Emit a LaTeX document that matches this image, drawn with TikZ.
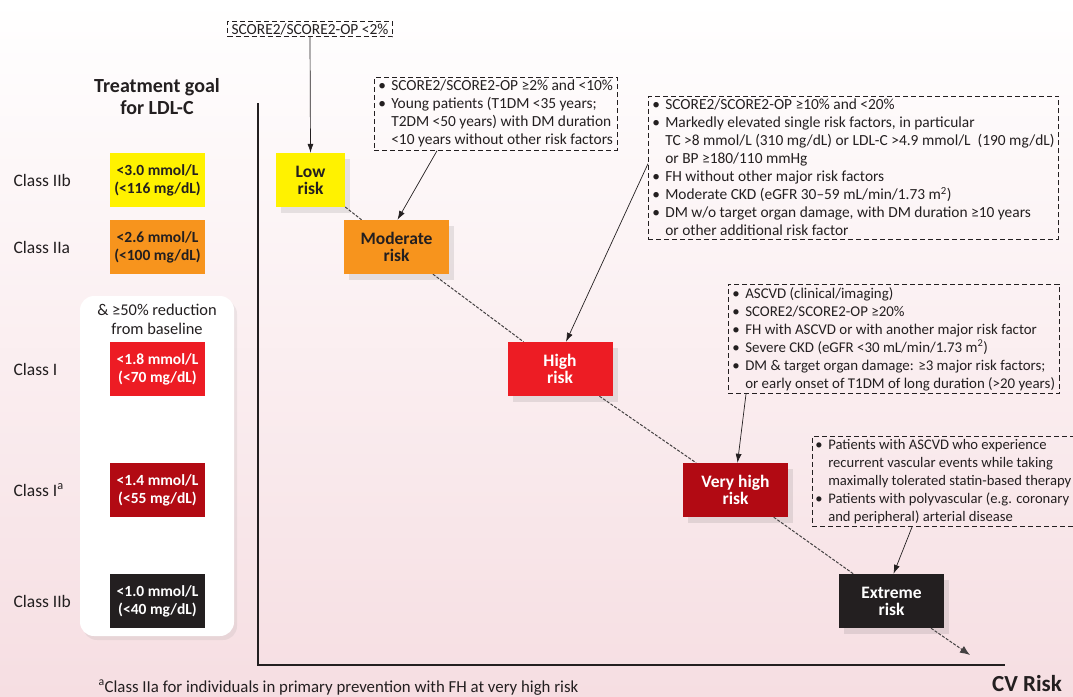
\documentclass[tikz,border=0pt]{standalone}
\usepackage{fontspec}
\setmainfont{Carlito}
\usetikzlibrary{arrows.meta, positioning, shadows, calc}
\definecolor{riskyellow}{HTML}{FFF200}
\definecolor{riskorange}{HTML}{F7941D}
\definecolor{riskred}{HTML}{ED1C24}
\definecolor{riskdark}{HTML}{B20A13}
\definecolor{riskblack}{HTML}{231F20}
\definecolor{ink}{HTML}{231F20}
\definecolor{bgpink}{HTML}{F6DEE2}
\pgfdeclarelayer{bottom}
\pgfdeclarelayer{back}
\pgfsetlayers{bottom,back,main}
\newcommand{\bul}{\makebox[13pt][l]{\textbullet}}
\newcommand{\ind}{\hspace*{13pt}}
\tikzset{
  >=Latex,
  % risk categories
  risk/.style={minimum width=105pt, minimum height=54pt, inner sep=0pt, align=center,
    font=\fontsize{17.5}{17}\selectfont\bfseries,
    drop shadow={shadow xshift=5pt, shadow yshift=-6pt, opacity=0.13, fill=black!70}},
  risk low/.style={risk, fill=riskyellow, text=ink, minimum width=69pt},
  risk moderate/.style={risk, fill=riskorange, text=ink},
  risk high/.style={risk, fill=riskred, text=white},
  risk veryhigh/.style={risk, fill=riskdark, text=white},
  risk extreme/.style={risk, fill=riskblack, text=white},
  % LDL-C goals
  goal/.style={minimum width=95pt, minimum height=54pt, inner sep=0pt, align=center,
    font=\fontsize{15.5}{18}\selectfont\bfseries},
  classlbl/.style={anchor=west, font=\fontsize{17.5}{18}\selectfont, text=ink},
  % dashed text boxes
  info/.style={draw=ink, dash pattern=on 5pt off 3pt, line width=0.6pt, align=left,
    inner xsep=4pt, inner ysep=3pt, font=\fontsize{15.4}{18}\selectfont, text=ink,
    anchor=north west},
  % connections
  connect arrow/.style={-{Latex[length=9pt,width=6pt]}, line width=0.7pt, ink},
  connect dash/.style={dash pattern=on 3pt off 1.5pt, line width=1pt, ink!85},
  axis/.style={line width=2pt, ink}
}

\begin{document}
\begin{tikzpicture}[x=1pt, y=-1pt]
  \useasboundingbox (0,0) rectangle (1073,696);
  \begin{pgfonlayer}{bottom}
    \shade[top color=white, middle color=bgpink!55, bottom color=bgpink] (0,0) rectangle (1073,696);
  \end{pgfonlayer}

  % axes
  \coordinate (ytop) at (258,103);
  \coordinate (orig) at (258,665);
  \coordinate (xend) at (1005,665);
  \draw[axis] (ytop) -- (orig) -- (xend);
  \node[font=\fontsize{23}{24}\selectfont\bfseries, text=ink] (cvrisk) at (1027,684) {CV Risk};

  % left panel
  \node[font=\fontsize{20}{22}\selectfont\bfseries, text=ink, align=center] (goaltitle) at (157,97) {Treatment goal\\for LDL-C};
  \node[draw=none, fill=white, rounded corners=14pt, minimum width=154pt, minimum height=340pt,
    drop shadow={shadow xshift=3pt, shadow yshift=-4pt, opacity=0.12}] (panel) at (157,466) {};
  \node[font=\fontsize{16.4}{19}\selectfont, text=ink, align=center] (reduction) at (157,319) {\& ≥50\% reduction\\from baseline};
  \foreach \y/\col/\tc/\txt/\cls/\name in {
      180/riskyellow/ink/{<3.0 mmol/L\\(<116 mg/dL)}/{Class IIb}/a,
      247/riskorange/ink/{<2.6 mmol/L\\(<100 mg/dL)}/{Class IIa}/b,
      369/riskred/white/{<1.8 mmol/L\\(<70 mg/dL)}/{Class I}/c,
      490/riskdark/white/{<1.4 mmol/L\\(<55 mg/dL)}/{Class I\textsuperscript{a}}/d,
      601/riskblack/white/{<1.0 mmol/L\\(<40 mg/dL)}/{Class IIb}/e}{
    \node[goal, fill=\col, text=\tc] (goal\name) at (157.5,\y) {\txt};
    \node[classlbl] (class\name) at (10,\y) {\cls};
  }
  \node[anchor=base west, font=\fontsize{16.8}{18}\selectfont, text=ink] (foot) at (95,692)
    {\textsuperscript{a}Class IIa for individuals in primary prevention with FH at very high risk};

  % risk boxes
  \node[risk low] (low) at (310.5,180) {Low\\risk};
  \node[risk moderate] (moderate) at (396.5,247) {Moderate\\risk};
  \node[risk high] (high) at (560,369) {High\\risk};
  \node[risk veryhigh] (veryhigh) at (735.5,490) {Very high\\risk};
  \node[risk extreme] (extreme) at (891.5,601) {Extreme\\risk};
  \coordinate (tip) at (970,655);

  \begin{pgfonlayer}{back}
    \draw[connect dash] (low) -- (moderate) -- (high) -- (veryhigh) -- (extreme);
  \end{pgfonlayer}
  \draw[connect dash, -{Latex[length=10pt,width=8pt]}] (extreme) -- (tip);

  % criteria
  \node[info, anchor=center, inner ysep=2pt] (lowinfo) at (310,29) {SCORE2/SCORE2-OP <2\%};
  \node[info] (modinfo) at (374,77) {%
    \bul SCORE2/SCORE2-OP ≥2\% and <10\%\\
    \bul Young patients (T1DM <35 years;\\
    \ind T2DM <50 years) with DM duration\\
    \ind <10 years without other risk factors};
  \node[info] (highinfo) at (648,96) {%
    \bul SCORE2/SCORE2-OP ≥10\% and <20\%\\
    \bul Markedly elevated single risk factors, in particular\\
    \ind TC >8 mmol/L (310 mg/dL) or LDL-C >4.9 mmol/L\ \ (190 mg/dL)\\
    \ind or BP ≥180/110 mmHg\\
    \bul FH without other major risk factors\\
    \bul Moderate CKD (eGFR 30–59 mL/min/1.73 m\textsuperscript{2})\\
    \bul DM w/o target organ damage, with DM duration ≥10 years\\
    \ind or other additional risk factor};
  \node[info, font=\fontsize{14.9}{18}\selectfont] (vhinfo) at (728,284) {%
    \bul ASCVD (clinical/imaging)\\
    \bul SCORE2/SCORE2-OP ≥20\%\\
    \bul FH with ASCVD or with another major risk factor\\
    \bul Severe CKD (eGFR <30 mL/min/1.73 m\textsuperscript{2})\\
    \bul DM \& target organ damage: ≥3 major risk factors;\\
    \ind or early onset of T1DM of long duration (>20 years)};
  \node[info, font=\fontsize{14.6}{18}\selectfont, inner xsep=3pt] (exinfo) at (812,436) {%
    \bul Patients with ASCVD who experience\\
    \ind recurrent vascular events while taking\\
    \ind maximally tolerated statin-based therapy\\
    \bul Patients with polyvascular (e.g. coronary\\
    \ind and peripheral) arterial disease};

  \draw[connect arrow] (lowinfo.south) -- (low.north);
  \draw[connect arrow] ([xshift=63pt]modinfo.south west) -- ([xshift=1pt]moderate.north);
  \draw[connect arrow] ([yshift=4pt]highinfo.west) -- ([xshift=6pt]high.north);
  \draw[connect arrow] ([xshift=18pt]vhinfo.south west) -- ([xshift=2pt]veryhigh.north);
  \draw[connect arrow] ([xshift=100pt]exinfo.south west) -- ([xshift=2pt]extreme.north);
\end{tikzpicture}
\end{document}
